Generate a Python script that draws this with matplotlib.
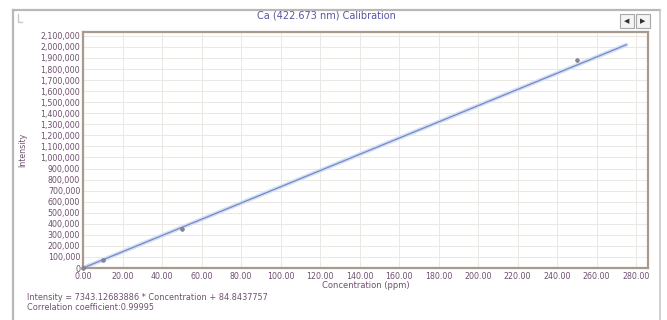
import matplotlib
matplotlib.use('Agg')
from matplotlib import pyplot as plt
from matplotlib.patches import Rectangle
from matplotlib.ticker import FuncFormatter

# calibration standards (ppm) and measured intensities
conc_std = [0, 10, 50, 250]
intens_std = [0, 72000, 355000, 1880000]

# fitted line as reported by the software
slope = 7343.12683886
intercept = 84.8437757
fit_conc = [0, 275]

x_ticks = [0, 20, 40, 60, 80, 100, 120, 140, 160, 180, 200, 220, 240, 260, 280]
y_ticks = list(range(0, 2100001, 100000))

label_col = '#6e5070'
W, H = 667, 320


def fx(px):
    return px / W


def fy(py):
    return 1 - py / H


fig = plt.figure(figsize=(6.67, 3.2), dpi=100)
fig.patch.set_facecolor('white')

# outer panel frame
fig.add_artist(plt.Line2D([fx(13), fx(13)], [fy(320), fy(10)], color='#b8b8b8', lw=1.6))
fig.add_artist(plt.Line2D([fx(13), fx(660)], [fy(10), fy(10)], color='#b8b8b8', lw=1.6))
fig.add_artist(plt.Line2D([fx(660), fx(660)], [fy(10), fy(320)], color='#c8c8c8', lw=1.2))

# top-left small icon
fig.add_artist(plt.Line2D([fx(18), fx(18), fx(22)], [fy(14), fy(22), fy(22)], color='#c8c8c8', lw=1))

# navigation buttons
for bx, sym in [(620, '\u25c0'), (636, '\u25b6')]:
    fig.add_artist(Rectangle((fx(bx), fy(28)), 14 / W, 14 / H, transform=fig.transFigure,
                             facecolor='#f4f4f4', edgecolor='#a8a8a8', lw=0.8))
    fig.text(fx(bx + 7), fy(21), sym, fontsize=5, color='#303030', ha='center', va='center')

fig.text(fx(326), fy(16), 'Ca (422.673 nm) Calibration', fontsize=7, color='#5656a0',
         ha='center', va='center')

ax = fig.add_axes([fx(83), fy(268), (648 - 83) / W, (268 - 32) / H])
ax.set_facecolor('white')

ax.plot(fit_conc, [slope * c + intercept for c in fit_conc], color='#d2e0f6', lw=3.0,
        solid_capstyle='round', zorder=2)
ax.plot(fit_conc, [slope * c + intercept for c in fit_conc], color='#7888c6', lw=0.9, zorder=3)
ax.plot(conc_std, intens_std, linestyle='none', marker='o', ms=2.6, mfc='#8a8a98', mec='#6e6e7e',
        mew=0.5, zorder=4, clip_on=False)

ax.set_xlim(0, 286)
ax.set_ylim(0, 2135000)
ax.set_xticks(x_ticks)
ax.set_yticks(y_ticks)
ax.xaxis.set_major_formatter(FuncFormatter(lambda v, p: '%.2f' % v))
ax.yaxis.set_major_formatter(FuncFormatter(lambda v, p: '{:,}'.format(int(v))))
ax.tick_params(axis='x', length=0, labelsize=5.7, labelcolor=label_col, pad=3)
ax.tick_params(axis='y', length=0, labelsize=5.7, labelcolor=label_col, pad=2)
ax.grid(True, color='#ebe8e4', lw=0.7)
ax.set_axisbelow(True)

for s in ax.spines.values():
    s.set_color('#a89a8c')
    s.set_linewidth(1.6)

ax.set_xlabel('Concentration (ppm)', fontsize=6, color=label_col, labelpad=0)
fig.text(fx(23), fy(150), 'Intensity', fontsize=5.6, color=label_col, rotation=90,
         ha='center', va='center')

fig.text(fx(27), fy(298), 'Intensity = 7343.12683886 * Concentration + 84.8437757',
         fontsize=5.9, color=label_col, va='center')
fig.text(fx(27), fy(308), 'Correlation coefficient:0.99995', fontsize=5.9, color=label_col,
         va='center')

fig.savefig('out.png', dpi=100)
